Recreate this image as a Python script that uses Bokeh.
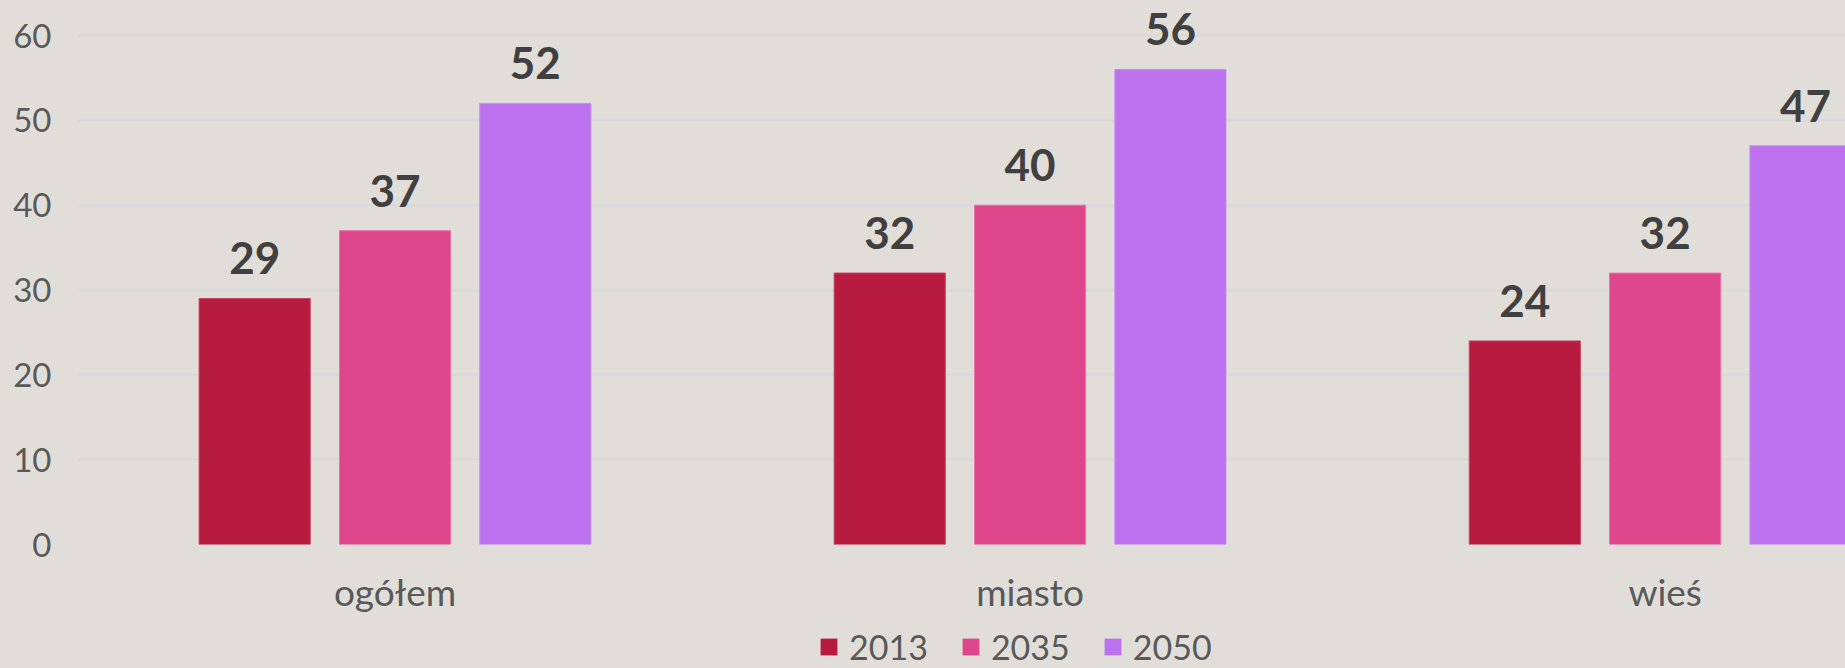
from bokeh.plotting import figure
from bokeh.layouts import column
from bokeh.models import (ColumnDataSource, Range1d, FixedTicker, Legend, LegendItem)
from bokeh.transform import dodge
from bokeh.core.properties import value
from bokeh.embed import file_html
from bokeh.resources import INLINE

# ---- data ----
categories = ["ogółem", "miasto", "wieś"]
years = ["2013", "2035", "2050"]
v2013 = [29, 32, 24]
v2035 = [37, 40, 32]
v2050 = [52, 56, 47]
y_ticks = [0, 10, 20, 30, 40, 50, 60]
colors = ["#b71c40", "#df478d", "#bc71ef"]
edge_colors = ["#c7445f", "#e874a8", "#c88cf2"]

BG = "#e1ded9"
FONT = "Lato"

cat_pos = [i + 0.5 for i in range(len(categories))]
src = ColumnDataSource(dict(
    x=cat_pos, cat=categories,
    y2013=v2013, y2035=v2035, y2050=v2050,
    t2013=[str(v) for v in v2013],
    t2035=[str(v) for v in v2035],
    t2050=[str(v) for v in v2050],
))

p = figure(width=1845, height=620, output_backend="svg", toolbar_location=None,
           x_range=Range1d(0.0016, 2.784), y_range=Range1d(0, 64.13),
           min_border_left=78, min_border_right=0, min_border_top=0,
           min_border_bottom=76)
p.background_fill_color = BG
p.border_fill_color = BG
p.outline_line_color = None

bar_w = 0.175
offsets = [-0.221, 0.0, 0.221]
for yr, col, ecol, off in zip(years, colors, edge_colors, offsets):
    p.vbar(x=dodge("x", off, range=p.x_range), top="y" + yr, width=bar_w,
           source=src, fill_color=col, line_color=ecol, line_width=1)
    p.text(x=dodge("x", off, range=p.x_range), y="y" + yr, text="t" + yr,
           source=src, text_font=value(FONT), text_font_style="bold",
           text_font_size="44px", text_color="#404040", text_align="center",
           text_baseline="alphabetic", y_offset=-40)

# axes
p.xaxis.ticker = FixedTicker(ticks=cat_pos)
p.xaxis.major_label_overrides = {pos: c for pos, c in zip(cat_pos, categories)}
p.xaxis.axis_line_color = None
p.xaxis.major_tick_line_color = None
p.xaxis.major_tick_out = 0
p.xaxis.minor_tick_line_color = None
p.xaxis.major_label_text_font = FONT
p.xaxis.major_label_text_font_size = "37px"
p.xaxis.major_label_text_color = "#595959"
p.xaxis.major_label_standoff = 24

p.yaxis.ticker = FixedTicker(ticks=y_ticks)
p.yaxis.axis_line_color = None
p.yaxis.major_tick_line_color = None
p.yaxis.major_tick_out = 0
p.yaxis.minor_tick_line_color = None
p.yaxis.major_label_text_font = FONT
p.yaxis.major_label_text_font_size = "33px"
p.yaxis.major_label_text_color = "#595959"
p.yaxis.major_label_standoff = 27

p.xgrid.grid_line_color = None
p.ygrid.grid_line_color = "#d7d8dc"
p.ygrid.grid_line_width = 2

# legend strip
lg = figure(width=1845, height=48, output_backend="svg", toolbar_location=None,
            x_range=Range1d(0, 1), y_range=Range1d(0, 1),
            min_border_left=0, min_border_right=0, min_border_top=0, min_border_bottom=0)
lg.axis.visible = False
lg.grid.visible = False
lg.background_fill_color = BG
lg.border_fill_color = BG
lg.outline_line_color = None
# swatch renderers placed below the visible y range; only their legend glyphs show
offscreen = ColumnDataSource(dict(x=[0.5], top=[-5.0], bottom=[-6.0]))
leg_r = [lg.vbar(x="x", top="top", bottom="bottom", width=0.1, source=offscreen,
                 fill_color=c, line_color=None)
         for c in colors]
legend = Legend(items=[LegendItem(label=yr, renderers=[r]) for yr, r in zip(years, leg_r)],
                orientation="horizontal", location=(740, 1),
                glyph_width=21, glyph_height=21, label_standoff=10, spacing=32,
                padding=0, margin=0, background_fill_alpha=0, border_line_color=None,
                label_text_font=FONT, label_text_font_size="34px",
                label_text_color="#595959")
lg.add_layout(legend, "center")

layout = column(p, lg, spacing=0)
html = file_html(layout, INLINE)
html = html.replace("</head>", "<style>html, body { background-color: #e1ded9; }</style></head>", 1)
open("out.html", "w").write(html)
